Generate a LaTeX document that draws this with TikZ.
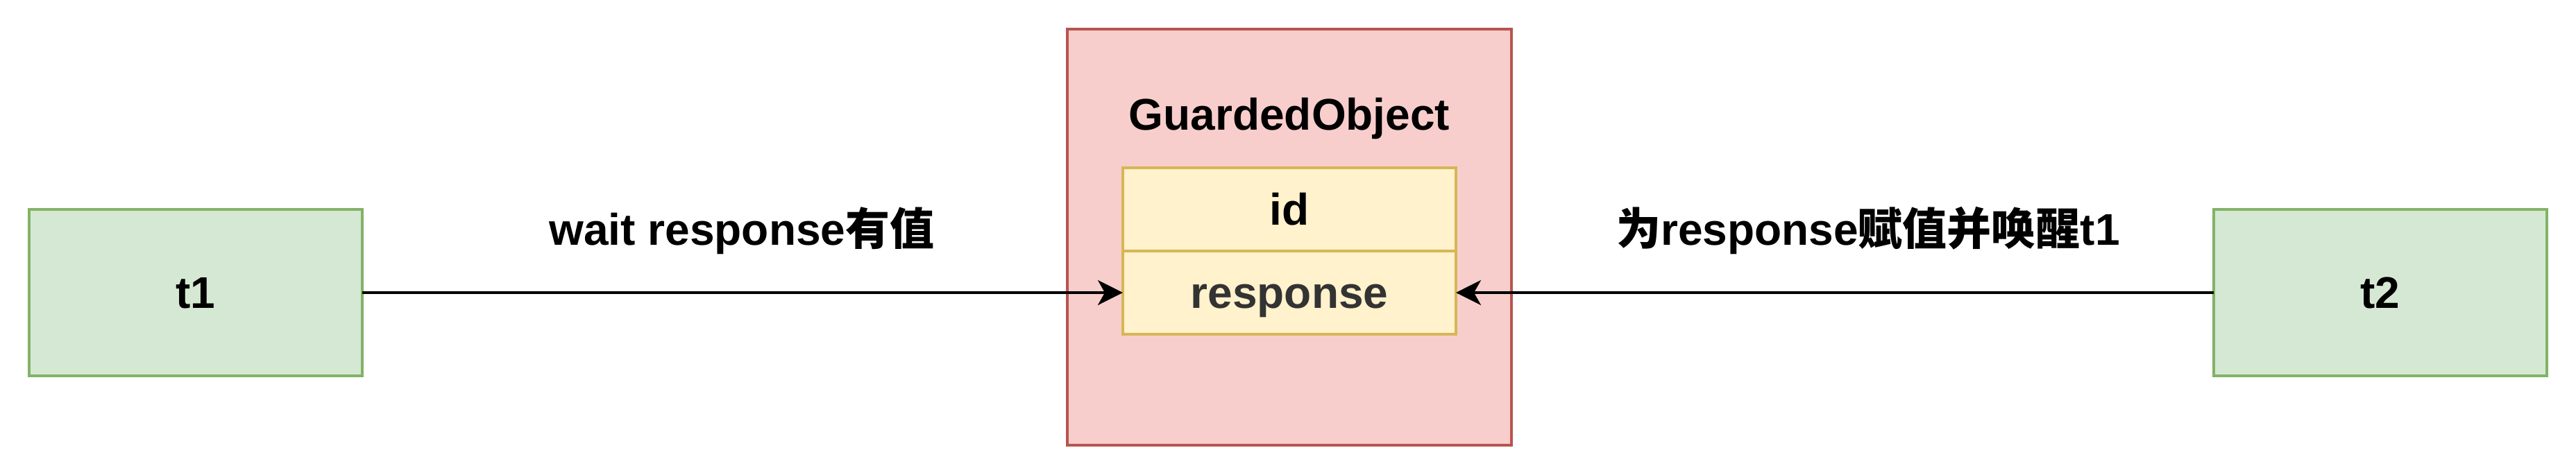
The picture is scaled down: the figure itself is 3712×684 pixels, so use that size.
\documentclass[tikz,border=0pt]{standalone}
\usepackage{fontspec}
\setmainfont{Liberation Sans}
\newfontfamily\cjk{Noto Sans CJK SC}
\usetikzlibrary{arrows.meta}
\definecolor{gfill}{HTML}{D5E8D4}
\definecolor{gline}{HTML}{82B366}
\definecolor{rfill}{HTML}{F8CECC}
\definecolor{rline}{HTML}{B85450}
\definecolor{yfill}{HTML}{FFF2CC}
\definecolor{yline}{HTML}{D6B656}
\definecolor{dtext}{HTML}{333333}
\tikzset{
  base/.style={font=\fontsize{12.8pt}{15pt}\selectfont\bfseries, line width=0.8pt},
  thread/.style={base, draw=gline, fill=gfill, minimum width=96pt, minimum height=48pt, text height=0.9em, text depth=0pt, inner sep=0pt, outer sep=0pt},
  outerbox/.style={base, draw=rline, fill=rfill, minimum width=128pt, minimum height=120pt, inner sep=0pt, outer sep=0pt},
  field/.style={base, draw=yline, fill=yfill, minimum width=96pt, minimum height=24pt, text height=0.9em, text depth=0pt, inner sep=0pt, outer sep=0pt},
  lbl/.style={font=\fontsize{12.8pt}{15pt}\selectfont\bfseries, inner sep=0pt, anchor=base},
  conn/.style={line width=0.8pt, -{Stealth[length=7.2pt, width=7.2pt, inset=2pt]}}
}
\begin{document}
\begin{tikzpicture}[x=0.2pt,y=-0.2pt]
\useasboundingbox (0,0) rectangle (3712,684);
\node[thread] (t1) at (282,422) {t1};
\node[thread] (t2) at (3430,422) {t2};
\node[outerbox] (go) at (1858,342) {};
\node[lbl] (gotitle) at (1858,187) {GuardedObject};
\node[field] (id) at (1858,302) {id};
\node[field, text=dtext] (resp) at (1858,422) {response};
\node[lbl] (l1) at (1069,353) {wait response{\cjk 有值}};
\node[lbl] (l2) at (2692,353) {{\cjk 为}response{\cjk 赋值并唤醒}t1};
\draw[conn] (t1.east) -- (resp.west);
\draw[conn] (t2.west) -- (resp.east);
\end{tikzpicture}
\end{document}
